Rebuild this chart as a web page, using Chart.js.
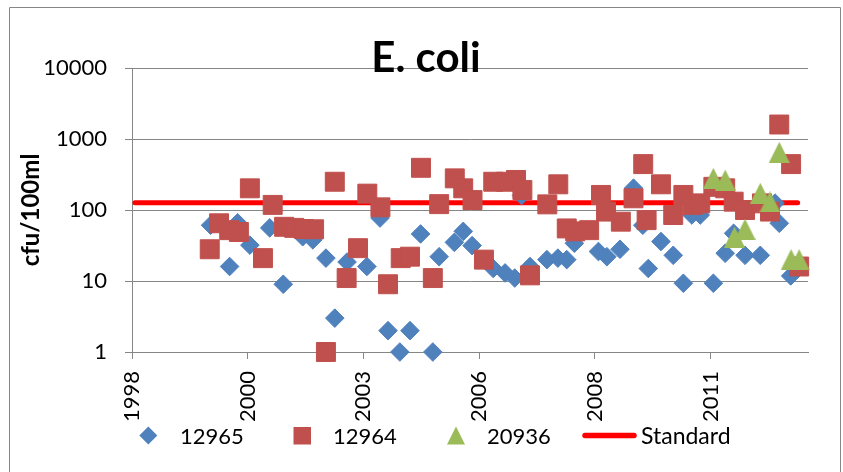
<!DOCTYPE html>
<html>
<head>
<meta charset="utf-8">
<script src="https://cdn.jsdelivr.net/npm/chart.js@4.4.1/dist/chart.umd.min.js"></script>
<style>
  html, body { margin: 0; padding: 0; background: #fff; }
  #wrap { width: 843px; height: 472px; position: relative; }
</style>
</head>
<body>
<div id="wrap"><canvas id="c" width="843" height="472"></canvas></div>
<script>
// ---- Data (x = decimal year, y = cfu/100ml) ----
const chartTitle = 'E. coli';
const yAxisTitle = 'cfu/100ml';

const site12965Years = [1999.86,2000.31,2000.50,2000.79,2001.26,2001.58,2002.04,2002.28,2002.59,2002.80,
  2003.09,2003.56,2003.87,2004.06,2004.34,2004.58,2004.83,2005.12,2005.27,2005.63,
  2005.84,2006.05,2006.55,2006.83,2007.06,2007.22,2007.42,2007.82,2008.08,2008.29,
  2008.47,2009.04,2009.24,2009.55,2009.87,2010.09,2010.22,2010.52,2010.81,2011.05,
  2011.25,2011.45,2011.76,2012.04,2012.24,2012.51,2012.87,2013.22,2013.32,2013.59];
const site12965Values = [61,16,66,32,56,9,42,38,21,3,
  18.5,16,77,2,1,2,46,1,22,35,
  50,31.5,15,13,11,160,16,20,21,20,
  34,26,22,28,203,61,15,36,23,9.3,
  85,85,9.3,24.6,47,23,23,125,65,11.8];

const site12964Years = [1999.84,2000.06,2000.30,2000.53,2000.79,2001.10,2001.33,2001.60,2001.84,2002.07,
  2002.31,2002.59,2002.80,2003.08,2003.35,2003.57,2003.88,2004.06,2004.36,2004.58,
  2004.84,2005.12,2005.27,2005.64,2005.84,2006.06,2006.33,2006.55,2006.85,2007.09,
  2007.24,2007.42,2007.83,2008.09,2008.29,2008.49,2008.82,2009.10,2009.22,2009.57,
  2009.87,2010.10,2010.18,2010.52,2010.81,2011.05,2011.27,2011.45,2011.76,2012.04,
  2012.24,2012.51,2012.91,2013.10,2013.32,2013.60,2013.79];
const site12964Values = [28,65,52,49,202,21,118,58,56,54,
  53.5,1,250,11,29,170,109,9,21,22,
  393,11,121,279,202,138,20,250,250,265,
  191,12,120,230,55,50,52,163,95,68.5,
  146,443,72,230,85,163,118,124,212,202,
  131,100,124,95,1600,443,16];

const site20936Years = [2011.76,2012.04,2012.26,2012.51,2012.87,2013.10,2013.32,2013.60,2013.79];
const site20936Values = [279,264,41.5,53.5,172,130,649,20,20];

const standardYears = [1998.07, 2013.755];
const standardValues = [126, 126];

const seriesLabels = ['12965', '12964', '20936', 'Standard'];

const yTickValues = [1, 10, 100, 1000, 10000];
const xTickYears = [1998, 2000.738, 2003.476, 2006.214, 2008.953, 2011.691];
const xTickLabels = ['1998', '2000', '2003', '2006', '2008', '2011'];

// ---- Styles ----
const BLUE = '#4F81BD', RED = '#C0504D', GREEN = '#9BBB59', STD = '#FF0000', GRID = '#868686';
const FONT = 'Lato';

function pts(xs, ys) { return xs.map((x, i) => ({ x: x, y: ys[i] })); }

function triImage(w, h, color) {
  const c = document.createElement('canvas');
  c.width = w; c.height = h;
  const g = c.getContext('2d');
  g.fillStyle = color;
  g.beginPath();
  g.moveTo(w / 2, 0);
  g.lineTo(w, h);
  g.lineTo(0, h);
  g.closePath();
  g.fill();
  return c;
}
const triPoint = triImage(21, 21, GREEN);

const framePlugin = {
  id: 'frame',
  beforeDraw(chart) {
    const ctx = chart.ctx;
    ctx.save();
    ctx.fillStyle = '#fff';
    ctx.fillRect(0, 0, chart.width, chart.height);
    ctx.strokeStyle = GRID;
    ctx.lineWidth = 1;
    ctx.beginPath();
    ctx.moveTo(9.5, chart.height + 2);
    ctx.lineTo(9.5, 7.5);
    ctx.lineTo(840.5, 7.5);
    ctx.lineTo(840.5, chart.height + 2);
    ctx.stroke();
    ctx.restore();
  }
};

const titlePlugin = {
  id: 'overTitle',
  afterDraw(chart) {
    const ctx = chart.ctx;
    ctx.save();
    ctx.font = 'bold 42px ' + FONT;
    ctx.fillStyle = '#000';
    ctx.textAlign = 'center';
    ctx.textBaseline = 'alphabetic';
    ctx.fillText(chartTitle, 426, 72);
    ctx.restore();
  }
};

const legendPlugin = {
  id: 'bottomLegend',
  afterDraw(chart) {
    const ctx = chart.ctx;
    const cy = 435.5;
    const baseline = 444;
    ctx.save();
    ctx.font = '22px ' + FONT;
    ctx.fillStyle = '#000';
    ctx.textBaseline = 'alphabetic';
    ctx.textAlign = 'left';
    // item 1: diamond
    ctx.fillStyle = BLUE;
    ctx.beginPath();
    ctx.moveTo(148.3, cy - 9); ctx.lineTo(157.3, cy); ctx.lineTo(148.3, cy + 9); ctx.lineTo(139.3, cy);
    ctx.closePath(); ctx.fill();
    ctx.fillStyle = '#000';
    ctx.fillText(seriesLabels[0], 180, baseline);
    // item 2: square
    ctx.fillStyle = RED;
    ctx.fillRect(293.5, cy - 8.5, 17.5, 17.5);
    ctx.fillStyle = '#000';
    ctx.fillText(seriesLabels[1], 333, baseline);
    // item 3: triangle
    ctx.fillStyle = GREEN;
    ctx.beginPath();
    ctx.moveTo(456, cy - 9); ctx.lineTo(465, cy + 9); ctx.lineTo(447, cy + 9);
    ctx.closePath(); ctx.fill();
    ctx.fillStyle = '#000';
    ctx.fillText(seriesLabels[2], 487, baseline);
    // item 4: line
    ctx.strokeStyle = STD;
    ctx.lineWidth = 5.5;
    ctx.lineCap = 'round';
    ctx.beginPath();
    ctx.moveTo(585, cy); ctx.lineTo(634, cy);
    ctx.stroke();
    ctx.fillStyle = '#000';
    ctx.font = '23px ' + FONT;
    ctx.fillText(seriesLabels[3], 641, baseline);
    ctx.restore();
  }
};

new Chart(document.getElementById('c'), {
  type: 'scatter',
  data: {
    datasets: [
      {
        label: seriesLabels[0], data: pts(site12965Years, site12965Values), clip: false,
        pointStyle: 'rectRot', pointRadius: 9.3, backgroundColor: BLUE, borderColor: BLUE, borderWidth: 1, order: 3
      },
      {
        label: seriesLabels[1], data: pts(site12964Years, site12964Values), clip: false,
        pointStyle: 'rect', pointRadius: 13.4, backgroundColor: RED, borderColor: RED, borderWidth: 1, order: 2
      },
      {
        label: seriesLabels[2], data: pts(site20936Years, site20936Values), clip: false,
        pointStyle: triPoint, pointRadius: 10, backgroundColor: GREEN, borderColor: GREEN, order: 1
      },
      {
        label: seriesLabels[3], type: 'line', data: pts(standardYears, standardValues),
        showLine: true, borderColor: STD, borderWidth: 5, borderCapStyle: 'round', pointRadius: 0,
        fill: false, order: 4
      }
    ]
  },
  options: {
    responsive: false,
    animation: false,
    events: [],
    layout: { padding: { left: 0, right: 35, top: 68, bottom: 0 } },
    plugins: { legend: { display: false }, tooltip: { enabled: false }, title: { display: false } },
    scales: {
      x: {
        type: 'linear', min: 1998, max: 2014,
        afterBuildTicks: s => { s.ticks = xTickYears.map(v => ({ value: v })); },
        afterFit: s => { s.height = 120; },
        ticks: {
          autoSkip: false, minRotation: 90, maxRotation: 90, padding: 12, color: '#000',
          font: { family: FONT, size: 22 },
          callback: (v, i) => xTickLabels[i]
        },
        grid: { drawOnChartArea: false, drawTicks: true, tickLength: 7, color: GRID, lineWidth: 1 },
        border: { color: GRID, width: 1 }
      },
      y: {
        type: 'logarithmic', min: 1, max: 10000,
        afterBuildTicks: s => { s.ticks = yTickValues.map(v => ({ value: v })); },
        afterFit: s => { s.width = 132; },
        ticks: {
          padding: 18, color: '#000', font: { family: FONT, size: 22 },
          callback: v => String(v)
        },
        grid: { color: GRID, lineWidth: 1, tickLength: 7 },
        border: { color: GRID, width: 1 },
        title: {
          display: true, text: yAxisTitle, color: '#000',
          font: { family: FONT, size: 24, weight: 'bold', lineHeight: 1 },
          padding: { top: 19, bottom: 0 }
        }
      }
    }
  },
  plugins: [framePlugin, titlePlugin, legendPlugin]
});
</script>
</body>
</html>
